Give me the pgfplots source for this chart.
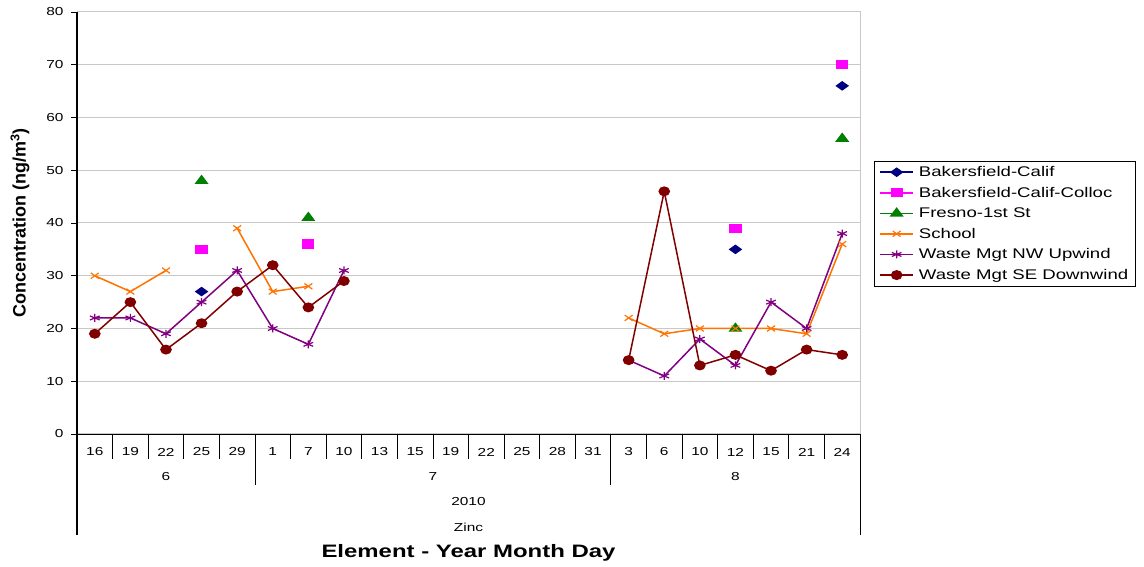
\documentclass[border=0pt]{standalone}
\usepackage{fontspec}
\setmainfont{Liberation Sans}[FakeStretch=1.33]
\newfontfamily\ylabfont{Liberation Sans}
\usepackage{pgfplots}
\usepackage{pgfplotstable}
\pgfplotsset{compat=1.18}
\definecolor{cbak}{RGB}{0,0,128}
\definecolor{ccol}{RGB}{255,0,255}
\definecolor{cfre}{RGB}{0,128,0}
\definecolor{csch}{RGB}{255,115,0}
\definecolor{cnw}{RGB}{128,0,128}
\definecolor{cse}{RGB}{128,0,0}
\definecolor{gridgray}{RGB}{200,200,200}
\pgfplotstableread{
x bak col fre sch nw se
0 nan nan nan 30 22 19
1 nan nan nan 27 22 25
2 nan nan nan 31 19 16
3 27 35 48 nan 25 21
4 nan nan nan 39 31 27
5 nan nan nan 27 20 32
6 nan 36 41 28 17 24
7 nan nan nan nan 31 29
8 nan nan nan nan nan nan
9 nan nan nan nan nan nan
10 nan nan nan nan nan nan
11 nan nan nan nan nan nan
12 nan nan nan nan nan nan
13 nan nan nan nan nan nan
14 nan nan nan nan nan nan
15 nan nan nan 22 14 14
16 nan nan nan 19 11 46
17 nan nan nan 20 18 13
18 35 39 20 20 13 15
19 nan nan nan 20 25 12
20 nan nan nan 19 20 16
21 66 70 56 36 38 15
}\data
\begin{document}
\begin{tikzpicture}
\path[use as bounding box] (0pt,0pt) rectangle (1144pt,-567pt);
\begin{axis}[
  at={(77pt,-12pt)}, anchor=north west,
  scale only axis, width=783pt, height=422pt,
  xmin=-0.5, xmax=21.5, ymin=0, ymax=80,
  xtick={0,...,21},
  xticklabels={16,19,22,25,29,1,7,10,13,15,19,22,25,28,31,3,6,10,12,15,21,24},
  ytick={0,10,...,80},
  ymajorgrids, grid style={line width=1pt, color=gridgray},
  axis line style={line width=1pt, color=gridgray},
  tick align=outside, major tick length=6pt,
  xtick style={draw=none}, ytick style={black, line width=0.8pt},
  xtick pos=bottom, ytick pos=left,
  tick label style={font=\fontsize{11.6}{13}\selectfont},
  /pgf/number format/assume math mode=true,
  xticklabel style={anchor=center, yshift=-12pt},
  yticklabel style={xshift=-4pt},
  unbounded coords=jump,
  clip=false,
  legend style={at={(1.0179,0.6469)}, anchor=north west, draw=black, line width=0.8pt,
    font=\fontsize{14}{16}\selectfont, cells={anchor=west}, inner xsep=5pt, inner ysep=3pt,
    row sep=5pt, /tikz/every odd column/.append style={column sep=3pt}},
  legend image code/.code={\draw[mark repeat=2,mark phase=2] plot coordinates {(0pt,0pt) (16.5pt,0pt) (33pt,0pt)};},
]
\addplot[cbak, line width=1.5pt, mark=diamond*, mark size=3.9pt, mark options={solid, fill=cbak, xscale=1.88}] table[x=x,y=bak]{\data};
\addlegendentry{Bakersfield-Calif}
\addplot[ccol, line width=1.5pt, mark=square*, mark size=3.85pt, mark options={solid, fill=ccol, xscale=1.39}] table[x=x,y=col]{\data};
\addlegendentry{Bakersfield-Calif-Colloc}
\addplot[cfre, line width=1.5pt, mark=triangle*, mark size=4.9pt, mark options={solid, fill=cfre, xscale=1.3}] table[x=x,y=fre]{\data};
\addlegendentry{Fresno-1st St}
\addplot[csch, line width=1.5pt, mark=x, mark size=4pt, mark options={solid, line width=1.2pt, xscale=1.4}] table[x=x,y=sch]{\data};
\addlegendentry{School}
\addplot[cnw, line width=1.5pt, mark=asterisk, mark size=4pt, mark options={solid, line width=1.2pt, xscale=1.4}] table[x=x,y=nw]{\data};
\addlegendentry{Waste Mgt NW Upwind}
\addplot[cse, line width=1.5pt, mark=*, mark size=4.2pt, mark options={solid, fill=cse, xscale=1.2}] table[x=x,y=se]{\data};
\addlegendentry{Waste Mgt SE Downwind}
\end{axis}
\draw[black, line width=1.2pt] (77pt,-12pt) -- (77pt,-535pt);
\draw[black, line width=1pt] (77pt,-434pt) -- (860pt,-434pt);
\draw[black, line width=1pt] (860pt,-434pt) -- (860pt,-535pt);
\foreach \k in {1,...,4,6,7,...,14,16,17,...,21} {\draw[black, line width=0.8pt] ({77pt+\k*35.5909pt},-434pt) -- ++(0pt,-25pt);}
\foreach \k in {5,15} {\draw[black, line width=0.8pt] ({77pt+\k*35.5909pt},-434pt) -- ++(0pt,-51pt);}
\begin{scope}[every node/.style={font=\fontsize{11.6}{13}\selectfont}]
\node at (166pt,-477pt) {6};
\node at (433pt,-477pt) {7};
\node at (735.4pt,-477pt) {8};
\node at (468.5pt,-502pt) {2010};
\node at (468.5pt,-527pt) {Zinc};
\end{scope}
\node[font=\bfseries\fontsize{18}{20}\selectfont] at (468.5pt,-553pt) {Element - Year Month Day};
\node[rotate=90, font=\ylabfont\bfseries\fontsize{18}{20}\selectfont] at (20pt,-223pt) {Concentration (ng/m\textsuperscript{3})};
\end{tikzpicture}
\end{document}
